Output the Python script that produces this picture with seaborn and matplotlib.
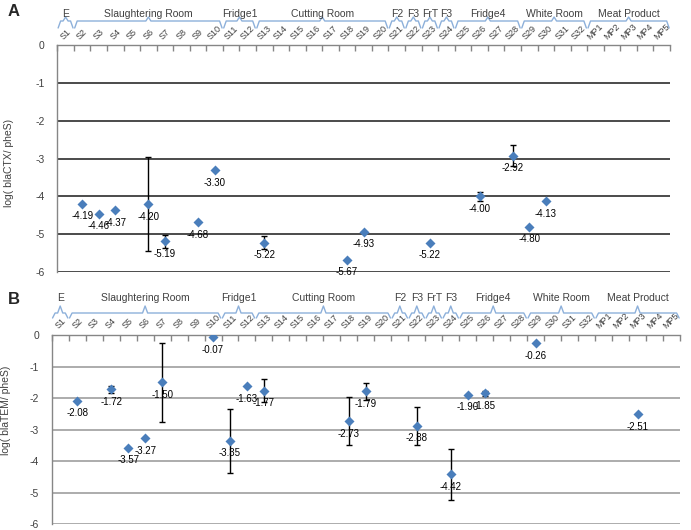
import numpy as np
import pandas as pd
import matplotlib
matplotlib.use('Agg')
import matplotlib.pyplot as plt
import matplotlib.transforms as mtransforms
import seaborn as sns

# --- data ---
categories = ['S1', 'S2', 'S3', 'S4', 'S5', 'S6', 'S7', 'S8', 'S9', 'S10',
              'S11', 'S12', 'S13', 'S14', 'S15', 'S16', 'S17', 'S18', 'S19', 'S20',
              'S21', 'S22', 'S23', 'S24', 'S25', 'S26', 'S27', 'S28', 'S29', 'S30',
              'S31', 'S32', 'MP1', 'MP2', 'MP3', 'MP4', 'MP5']

groups = ['E', 'Slaughtering Room', 'Fridge1', 'Cutting Room', 'F2', 'F3', 'FrT',
          'F3', 'Fridge4', 'White Room', 'Meat Product']
group_first = ['S1', 'S2', 'S11', 'S13', 'S21', 'S22', 'S23', 'S24', 'S25', 'S29', 'MP1']
group_last = ['S1', 'S10', 'S12', 'S20', 'S21', 'S22', 'S23', 'S24', 'S28', 'S32', 'MP5']

ctx_samples = ['S2', 'S3', 'S4', 'S6', 'S7', 'S9', 'S10', 'S13', 'S18', 'S19',
               'S23', 'S26', 'S28', 'S29', 'S30']
ctx_values = [-4.19, -4.46, -4.37, -4.20, -5.19, -4.68, -3.30, -5.22, -5.67, -4.93,
              -5.22, -4.00, -2.92, -4.80, -4.13]
ctx_err = [0, 0, 0, 1.25, 0.17, 0, 0, 0.17, 0, 0, 0, 0.13, 0.28, 0, 0]

tem_samples = ['S2', 'S4', 'S5', 'S6', 'S7', 'S10', 'S11', 'S12', 'S13', 'S18',
               'S19', 'S22', 'S24', 'S25', 'S26', 'S29', 'MP3']
tem_values = [-2.08, -1.72, -3.57, -3.27, -1.50, -0.07, -3.35, -1.63, -1.77, -2.73,
              -1.79, -2.88, -4.42, -1.90, -1.85, -0.26, -2.51]
tem_err = [0, 0.11, 0, 0, 1.25, 0, 1.02, 0, 0.36, 0.75, 0.28, 0.60, 0.82, 0, 0.07, 0, 0]

sns.set_style('white')
plt.rcParams['font.family'] = ['Liberation Sans', 'DejaVu Sans']

W, H = 691, 530
fig = plt.figure(figsize=(W / 100, H / 100), dpi=100)

marker_color = '#4A7EBB'
brace_color = '#8DB0DA'
text_color = '#404040'


def px_axes(left, right, top, bottom):
    return fig.add_axes([left / W, 1 - bottom / H, (right - left) / W, (bottom - top) / H])


def draw_panel(ax, samples, values, errs, ylabel, grid_color, brace_px, label_px):
    df = pd.DataFrame({'sample': samples, 'value': values, 'err': errs})
    df['pos'] = [categories.index(s) for s in df['sample']]

    ax.set_xlim(-0.5, len(categories) - 0.5)
    ax.set_ylim(-6, 0)

    for yv in [-1, -2, -3, -4, -5, -6]:
        ax.axhline(yv, color=grid_color, lw=1.1, zorder=1)

    eb = df[df['err'] > 0]
    ax.errorbar(eb['pos'], eb['value'], yerr=eb['err'], fmt='none', ecolor='black',
                elinewidth=1, capsize=2.5, capthick=1, zorder=2)
    sns.scatterplot(data=df, x='pos', y='value', marker='D', color=marker_color,
                    s=26, edgecolor=marker_color, linewidth=0, zorder=3, ax=ax)

    for _, r in df.iterrows():
        ax.annotate(f"{r['value']:.2f}", (r['pos'], r['value']), xytext=(0, -9),
                    textcoords='offset points', ha='center', va='center',
                    fontsize=7, color='black', zorder=4)

    # top category axis
    ax.xaxis.tick_top()
    ax.set_xticks(range(len(categories)))
    ax.set_xticklabels(categories, rotation=45, ha='center', va='bottom',
                       fontsize=6.5, color=text_color)
    ax.set_xticks(np.arange(-0.5, len(categories), 1), minor=True)
    ax.tick_params(axis='x', which='major', length=0, pad=3, top=True, bottom=False)
    ax.tick_params(axis='x', which='minor', length=4, direction='in', color='#868686',
                   width=1, top=True, bottom=False)
    ax.set_yticks([0, -1, -2, -3, -4, -5, -6])
    ax.set_yticklabels(['0', '-1', '-2', '-3', '-4', '-5', '-6'], fontsize=7.5,
                       color=text_color)
    ax.tick_params(axis='y', length=0, pad=9)
    ax.set_xlabel('')
    ax.set_ylabel(ylabel, fontsize=7.5, color=text_color)

    for side in ['right', 'bottom']:
        ax.spines[side].set_visible(False)
    for side in ['top', 'left']:
        ax.spines[side].set_color('#868686')
        ax.spines[side].set_linewidth(1)

    # group braces above the category labels
    trans = mtransforms.blended_transform_factory(ax.transData, fig.transFigure)
    yb, yh, yp = [1 - v / H for v in brace_px]
    for name, a, b in zip(groups, group_first, group_last):
        i0, i1 = categories.index(a), categories.index(b)
        x0, x1 = i0 - 0.45, i1 + 0.45
        xm = (i0 + i1) / 2
        d = 0.15
        ax.plot([x0, x0 + d, xm - d, xm, xm + d, x1 - d, x1],
                [yb, yh, yh, yp, yh, yh, yb], color=brace_color, lw=1,
                transform=trans, clip_on=False)
        ax.text(xm, 1 - label_px / H, name, transform=trans, ha='center', va='center',
                fontsize=7.5, color=text_color)


axA = px_axes(57.3, 670, 45.5, 272)
draw_panel(axA, ctx_samples, ctx_values, ctx_err, 'log( blaCTX/ pheS)', '#1a1a1a',
           (28, 21, 17), 14)
axA.yaxis.set_label_coords(-0.07, 0.48)

axB = px_axes(51.7, 680, 335, 524.3)
draw_panel(axB, tem_samples, tem_values, tem_err, 'log( blaTEM/ pheS)', '#969696',
           (318, 313, 306), 298)
axB.yaxis.set_label_coords(-0.064, 0.6)

fig.text(8 / W, 1 - 12 / H, 'A', fontsize=12, fontweight='bold', va='center', ha='left')
fig.text(8 / W, 1 - 300 / H, 'B', fontsize=12, fontweight='bold', va='center', ha='left')

fig.savefig('out.png', dpi=100)
